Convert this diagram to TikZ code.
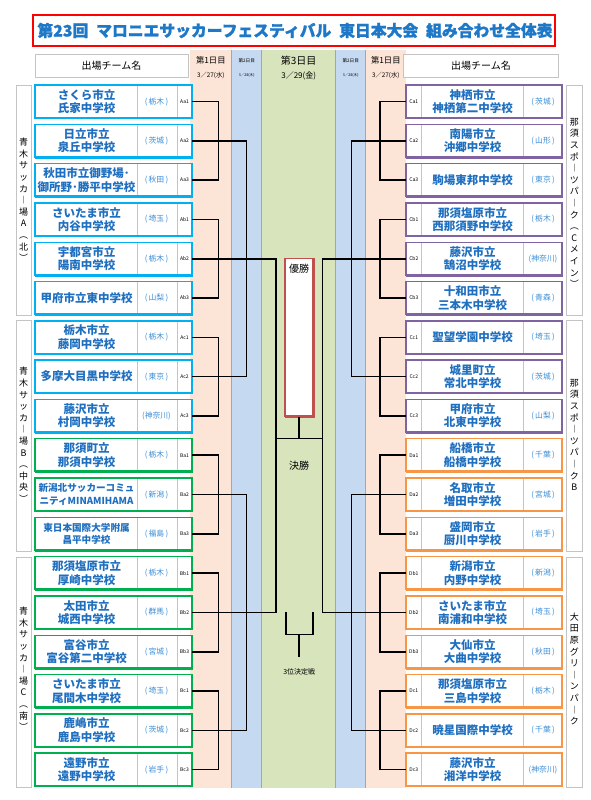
\documentclass[tikz,border=0pt]{standalone}
\usepackage{fontspec}
\setmainfont{Noto Sans CJK JP}
\newfontfamily\titfont{Noto Sans CJK JP}[BoldFeatures={FakeBold=1.2}]
\usetikzlibrary{calc}
\definecolor{tblue}{HTML}{1F6FC0}
\definecolor{pblue}{HTML}{3A8DD6}
\definecolor{titblue}{HTML}{1E78C8}
\definecolor{cA}{HTML}{00B0F0}
\definecolor{cB}{HTML}{00B050}
\definecolor{cC}{HTML}{8064A2}
\definecolor{cD}{HTML}{F79646}
\definecolor{peach}{HTML}{FCE4D6}
\definecolor{skyb}{HTML}{C5D9F1}
\definecolor{olivg}{HTML}{D8E4BC}
\definecolor{gridg}{HTML}{C4C4C4}
\definecolor{colg}{HTML}{A6A6A6}
\definecolor{winred}{HTML}{C0504D}
\tikzset{
  tbox/.style={inner sep=0pt,outer sep=0pt,minimum width=157pt,minimum height=33pt},
  nm/.style={inner sep=0pt,align=center,text=tblue,font=\bfseries\fontsize{11.5}{13.4}\selectfont},
  nmsmall/.style={inner sep=0pt,align=center,text=tblue,font=\bfseries\fontsize{9.6}{12.6}\selectfont},
  pf/.style={inner sep=0pt,text=pblue,font=\fontsize{7.8}{9}\selectfont},
  cd/.style={inner sep=0pt,font=\fontsize{5}{6}\selectfont},
  br/.style={line width=1.6pt,black},
  vlab/.style={inner sep=0pt,align=center,font=\fontsize{9}{11.6}\selectfont},
  hbox/.style={draw=gridg,fill=white,line width=0.8pt,inner sep=0pt,minimum height=23pt,font=\fontsize{10}{12}\selectfont},
}
\newcommand\lteam[6]{%
  \pgfmathsetmacro\yc{101.5+39.3*#1}%
  \node[tbox] (L#1) at (113.5,\yc) {};
  \fill[white] (L#1.north west) rectangle (L#1.south east);
  \draw[gridg,line width=.6pt] (137,\yc-16.5) -- (137,\yc+16.5) (177,\yc-16.5) -- (177,\yc+16.5);
  \draw[#2,line width=1.4pt] (L#1.north west) rectangle (L#1.south east);
  \draw[#2,line width=2.6pt] (L#1.north east) -- (L#1.south east) -- (L#1.south west);
  \node[#6] (L#1n) at (86.5,\yc) {#3};
  \node[pf] (L#1p) at (156.5,\yc) {#4};
  \node[cd] (L#1c) at (184.5,\yc) {#5};
}
\newcommand\rteam[6]{%
  \pgfmathsetmacro\yc{101.5+39.3*#1}%
  \node[tbox,minimum width=156pt] (R#1) at (484,\yc) {};
  \fill[white] (R#1.north west) rectangle (R#1.south east);
  \draw[gridg,line width=.6pt] (421.7,\yc-16.5) -- (421.7,\yc+16.5) (523.3,\yc-16.5) -- (523.3,\yc+16.5);
  \draw[#2,line width=1.4pt] (R#1.north west) rectangle (R#1.south east);
  \draw[#2,line width=2.6pt] (R#1.north east) -- (R#1.south east) -- (R#1.south west);
  \node[#6] (R#1n) at (472.5,\yc) {#3};
  \node[pf] (R#1p) at (543,\yc) {#4};
  \node[cd] (R#1c) at (413.8,\yc) {#5};
}
\begin{document}
\begin{tikzpicture}[x=1pt,y=-1pt]
\useasboundingbox (0,0) rectangle (590,800);
\fill[white] (0,0) rectangle (590,800);
% title
\draw[red,line width=1.4pt,fill=white] (33,15) rectangle (555,46);
\draw[red,line width=2.6pt] (555,15) -- (555,46) -- (33,46);
\node[inner sep=0pt,text=titblue,font=\titfont\bfseries\fontsize{15.8}{18}\selectfont] (title) at (295,30.5) {第23回\enspace マロニエサッカーフェスティバル\enspace 東日本大会\enspace 組み合わせ全体表};
% columns
\fill[peach] (190,50) rectangle (231.7,788);
\fill[skyb] (231.7,50) rectangle (261.7,788);
\fill[olivg] (261.7,50) rectangle (335.7,788);
\fill[skyb] (335.7,50) rectangle (365.7,788);
\fill[peach] (365.7,50) rectangle (406,788);
\draw[colg,line width=.5pt] (231.7,50) -- (231.7,788) (261.7,50) -- (261.7,788) (335.7,50) -- (335.7,788) (365.7,50) -- (365.7,788);
% header
\node[hbox,minimum width=153pt] (HL) at (111.5,66) {出場チーム名};
\node[hbox,minimum width=155pt] (HR) at (481,66) {出場チーム名};
\node[inner sep=0pt,font=\fontsize{8.3}{9}\selectfont] (d1l) at (210.8,60.5) {第1日目};
\node[inner sep=0pt,font=\fontsize{6.3}{7}\selectfont] (t1l) at (210.8,75.5) {3／27(水)};
\node[inner sep=0pt,font=\fontsize{4.6}{5}\selectfont] (d2l) at (246.7,60.5) {第2日目};
\node[inner sep=0pt,font=\fontsize{3.6}{4}\selectfont] (t2l) at (246.7,75.5) {3／28(木)};
\node[inner sep=0pt,font=\fontsize{10}{11}\selectfont] (d3) at (298.7,61) {第3日目};
\node[inner sep=0pt,font=\fontsize{8}{9}\selectfont] (t3) at (298.7,76) {3／29(金)};
\node[inner sep=0pt,font=\fontsize{4.6}{5}\selectfont] (d2r) at (350.7,60.5) {第2日目};
\node[inner sep=0pt,font=\fontsize{3.6}{4}\selectfont] (t2r) at (350.7,75.5) {3／28(木)};
\node[inner sep=0pt,font=\fontsize{8.3}{9}\selectfont] (d1r) at (385.8,60.5) {第1日目};
\node[inner sep=0pt,font=\fontsize{6.3}{7}\selectfont] (t1r) at (385.8,75.5) {3／27(水)};
% venue boxes
\draw[gridg,line width=.8pt,fill=white] (16,85) rectangle (31,315);
\draw[gridg,line width=.8pt,fill=white] (16,320) rectangle (31,551);
\draw[gridg,line width=.8pt,fill=white] (16,557) rectangle (31,787);
\draw[gridg,line width=.8pt,fill=white] (566.7,85) rectangle (582,315);
\draw[gridg,line width=.8pt,fill=white] (566.7,320) rectangle (582,551);
\draw[gridg,line width=.8pt,fill=white] (566.7,557) rectangle (582,787);
\node[vlab] (VA) at (23.5,200) {青\\木\\サ\\ッ\\カ\\︱\\場\\A\\︵\\北\\︶};
\node[vlab] (VB) at (23.5,435) {青\\木\\サ\\ッ\\カ\\︱\\場\\B\\︵\\中\\央\\︶};
\node[vlab] (VC) at (23.5,669) {青\\木\\サ\\ッ\\カ\\︱\\場\\C\\︵\\南\\︶};
\node[vlab] (VD) at (574.3,203) {那\\須\\ス\\ポ\\︱\\ツ\\パ\\︱\\ク\\︵\\C\\メ\\イ\\ン\\︶};
\node[vlab] (VE) at (574.3,435) {那\\須\\ス\\ポ\\︱\\ツ\\パ\\︱\\ク\\B};
\node[vlab] (VF) at (574.3,669) {大\\田\\原\\グ\\リ\\︱\\ン\\パ\\︱\\ク};
% left teams
\lteam{0}{cA}{さくら市立\\氏家中学校}{(\,栃木\,)}{Aa1}{nm}
\lteam{1}{cA}{日立市立\\泉丘中学校}{(\,茨城\,)}{Aa2}{nm}
\lteam{2}{cA}{秋田市立御野場･\\御所野･勝平中学校}{(\,秋田\,)}{Aa3}{nm}
\lteam{3}{cA}{さいたま市立\\内谷中学校}{(\,埼玉\,)}{Ab1}{nm}
\lteam{4}{cA}{宇都宮市立\\陽南中学校}{(\,栃木\,)}{Ab2}{nm}
\lteam{5}{cA}{甲府市立東中学校}{(\,山梨\,)}{Ab3}{nm}
\lteam{6}{cA}{栃木市立\\藤岡中学校}{(\,栃木\,)}{Ac1}{nm}
\lteam{7}{cA}{多摩大目黒中学校}{(\,東京\,)}{Ac2}{nm}
\lteam{8}{cA}{藤沢市立\\村岡中学校}{(神奈川)}{Ac3}{nm}
\lteam{9}{cB}{那須町立\\那須中学校}{(\,栃木\,)}{Ba1}{nm}
\lteam{10}{cB}{新潟北サッカーコミュ\\ニティMINAMIHAMA}{(\,新潟\,)}{Ba2}{nmsmall}
\lteam{11}{cB}{東日本国際大学附属\\昌平中学校}{(\,福島\,)}{Ba3}{nmsmall}
\lteam{12}{cB}{那須塩原市立\\厚崎中学校}{(\,栃木\,)}{Bb1}{nm}
\lteam{13}{cB}{太田市立\\城西中学校}{(\,群馬\,)}{Bb2}{nm}
\lteam{14}{cB}{富谷市立\\富谷第二中学校}{(\,宮城\,)}{Bb3}{nm}
\lteam{15}{cB}{さいたま市立\\尾間木中学校}{(\,埼玉\,)}{Bc1}{nm}
\lteam{16}{cB}{鹿嶋市立\\鹿島中学校}{(\,茨城\,)}{Bc2}{nm}
\lteam{17}{cB}{遠野市立\\遠野中学校}{(\,岩手\,)}{Bc3}{nm}
% right teams
\rteam{0}{cC}{神栖市立\\神栖第二中学校}{(\,茨城\,)}{Ca1}{nm}
\rteam{1}{cC}{南陽市立\\沖郷中学校}{(\,山形\,)}{Ca2}{nm}
\rteam{2}{cC}{駒場東邦中学校}{(\,東京\,)}{Ca3}{nm}
\rteam{3}{cC}{那須塩原市立\\西那須野中学校}{(\,栃木\,)}{Cb1}{nm}
\rteam{4}{cC}{藤沢市立\\鵠沼中学校}{(神奈川)}{Cb2}{nm}
\rteam{5}{cC}{十和田市立\\三本木中学校}{(\,青森\,)}{Cb3}{nm}
\rteam{6}{cC}{聖望学園中学校}{(\,埼玉\,)}{Cc1}{nm}
\rteam{7}{cC}{城里町立\\常北中学校}{(\,茨城\,)}{Cc2}{nm}
\rteam{8}{cC}{甲府市立\\北東中学校}{(\,山梨\,)}{Cc3}{nm}
\rteam{9}{cD}{船橋市立\\船橋中学校}{(\,千葉\,)}{Da1}{nm}
\rteam{10}{cD}{名取市立\\増田中学校}{(\,宮城\,)}{Da2}{nm}
\rteam{11}{cD}{盛岡市立\\厨川中学校}{(\,岩手\,)}{Da3}{nm}
\rteam{12}{cD}{新潟市立\\内野中学校}{(\,新潟\,)}{Db1}{nm}
\rteam{13}{cD}{さいたま市立\\南浦和中学校}{(\,埼玉\,)}{Db2}{nm}
\rteam{14}{cD}{大仙市立\\大曲中学校}{(\,秋田\,)}{Db3}{nm}
\rteam{15}{cD}{那須塩原市立\\三島中学校}{(\,栃木\,)}{Dc1}{nm}
\rteam{16}{cD}{暁星国際中学校}{(\,千葉\,)}{Dc2}{nm}
\rteam{17}{cD}{藤沢市立\\湘洋中学校}{(神奈川)}{Dc3}{nm}
% winner box
\node[inner sep=0pt,outer sep=0pt,minimum width=28.3pt,minimum height=158.4pt] (W) at (299.2,337.5) {};
\draw[winred,line width=1.4pt,fill=white] (W.north west) rectangle (W.south east);
\draw[winred,line width=2.6pt] (W.north east) -- (W.south east) -- (W.south west);
\node[inner sep=0pt,font=\fontsize{10}{11}\selectfont] (Wt) at (299.2,268.5) {優勝};
\node[inner sep=0pt,font=\fontsize{10}{11}\selectfont] (Ft) at (299.2,466) {決勝};
\node[inner sep=0pt,font=\fontsize{7}{8}\selectfont] (Tt) at (299.2,671.5) {3位決定戦};
% bracket lines
\foreach \a/\c in {0/2,3/5,6/8,9/11,12/14,15/17}{
  \draw[br] (L\a.east) -- ++(26.3,0) |- (L\c.east);
  \draw[br] (R\a.west) -- ++(-26.3,0) |- (R\c.west);
}
\draw[br] (L1.east) -- ++(54.5,0) |- (L7.east);
\draw[br] (L10.east) -- ++(54.5,0) |- (L16.east);
\draw[br] (L4.east) -- ++(83.7,0) |- (L13.east);
\draw[br] (R1.west) -- ++(-54.5,0) |- (R7.west);
\draw[br] (R10.west) -- ++(-54.5,0) |- (R16.west);
\draw[br] (R4.west) -- ++(-83.7,0) |- (R13.west);
% final
\coordinate (FL) at (275.7,438.3);
\coordinate (FR) at (322.3,438.3);
\draw[br] (FL) -- (FR);
\draw[br] (W.south) -- (W.south |- FL);
% third place
\coordinate (T1) at (285.7,612.4);
\coordinate (T2) at (312.7,612.4);
\coordinate (T3) at (299.2,634.3);
\coordinate (T4) at (299.2,656.5);
\draw[br] (T1) |- (T3) -| (T2);
\draw[br] (T3) -- (T4);
\end{tikzpicture}
\end{document}
